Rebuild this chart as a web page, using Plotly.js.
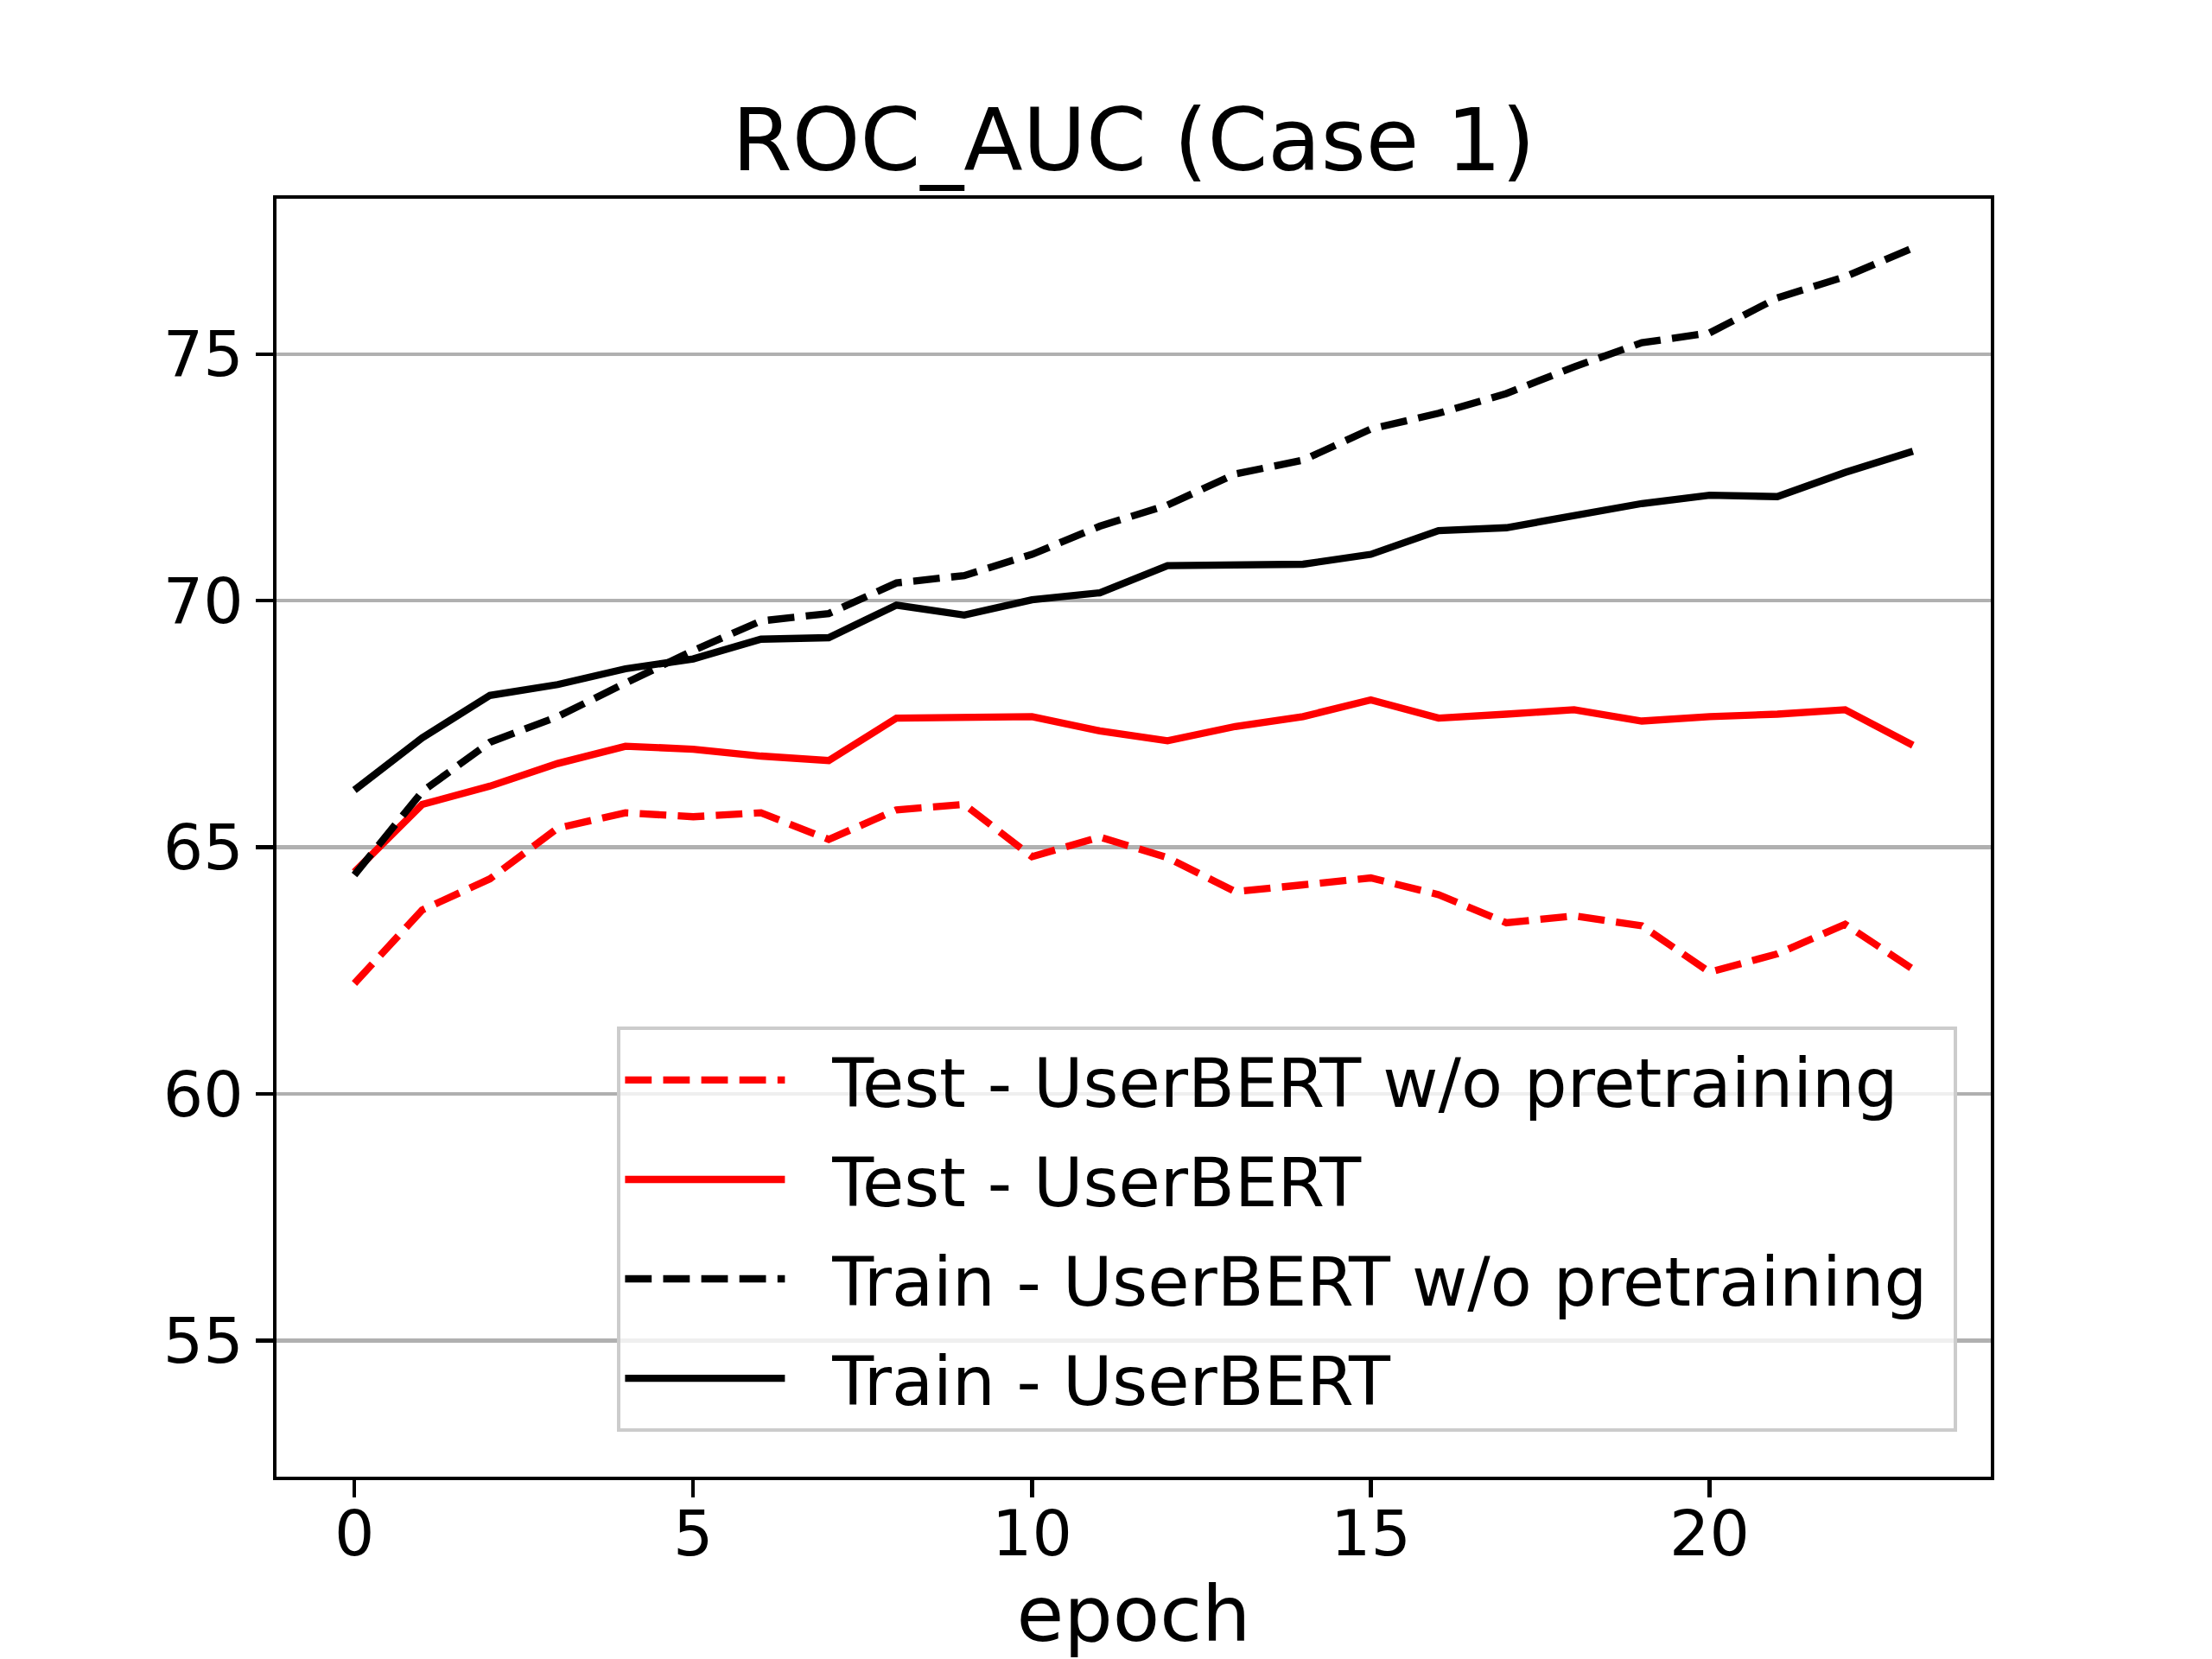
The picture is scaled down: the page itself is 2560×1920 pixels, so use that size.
<!DOCTYPE html>
<html>
<head>
<meta charset="utf-8">
<script src="https://cdn.plot.ly/plotly-3.0.1.min.js"></script>
<style>
  html, body { margin: 0; padding: 0; background: #ffffff; }
  #chart { width: 2560px; height: 1920px; }
</style>
</head>
<body>
<div id="chart"></div>
<script>
// ---- data ----
const epochs = [0,1,2,3,4,5,6,7,8,9,10,11,12,13,14,15,16,17,18,19,20,21,22,23];

const testNoPretrain = [62.24,63.73,64.36,65.39,65.70,65.62,65.70,65.16,65.76,65.87,64.81,65.21,
                        64.79,64.10,64.24,64.38,64.04,63.47,63.61,63.41,62.47,62.84,63.44,62.53];
const testUserBERT   = [64.50,65.87,66.24,66.70,67.05,66.99,66.85,66.76,67.62,67.65,67.65,67.36,
                        67.16,67.45,67.65,67.99,67.62,67.70,67.79,67.56,67.65,67.70,67.79,67.07];
const trainNoPretrain = [64.44,66.13,67.13,67.65,68.33,68.99,69.59,69.74,70.36,70.51,70.94,71.51,
                         71.94,72.57,72.85,73.48,73.80,74.20,74.74,75.23,75.43,76.14,76.57,77.15];
const trainUserBERT  = [66.16,67.22,68.08,68.30,68.62,68.82,69.22,69.25,69.91,69.71,70.02,70.16,
                        70.71,70.74,70.74,70.94,71.42,71.48,71.74,71.97,72.14,72.11,72.60,73.03];

const seriesNames = ['Test - UserBERT w/o pretraining', 'Test - UserBERT',
                     'Train - UserBERT w/o pretraining', 'Train - UserBERT'];
const xTicks = [0, 5, 10, 15, 20];
const yTicks = [55, 60, 65, 70, 75];

// ---- styling ----
const LW = 8.33;               // 1.5pt at 400 dpi
const DASH = '30.8px,13.3px';  // matplotlib dashed pattern scaled
const FONT = 'DejaVu Sans, Liberation Sans, sans-serif';
const HANDLE_PAD = '\u00A0\u00A0'; // gap between legend line sample and its text
const RIGHT_PAD = '\u00A0';        // inner right padding of the legend box

const series = [
  { y: testNoPretrain,  color: '#ff0000', dash: DASH },
  { y: testUserBERT,    color: '#ff0000', dash: 'solid' },
  { y: trainNoPretrain, color: '#000000', dash: DASH },
  { y: trainUserBERT,   color: '#000000', dash: 'solid' }
];

const traces = series.map((s, i) => ({
  type: 'scatter',
  mode: 'lines',
  x: epochs,
  y: s.y,
  name: HANDLE_PAD + seriesNames[i] + RIGHT_PAD,
  legendgroup: 'g' + i,
  line: { color: s.color, width: LW, dash: s.dash },
  hoverinfo: 'skip'
}));

const layout = {
  width: 2560,
  height: 1920,
  margin: { l: 320, r: 256, t: 230, b: 211, pad: 0 },
  paper_bgcolor: '#ffffff',
  plot_bgcolor: '#ffffff',
  font: { family: FONT, color: '#000000', size: 73 },
  title: {
    text: 'ROC_AUC (Case 1)',
    font: { family: FONT, size: 100, color: '#000000' },
    xref: 'paper', x: 0.5, xanchor: 'center',
    yref: 'container', y: 1 - 162 / 1920, yanchor: 'middle'
  },
  xaxis: {
    range: [-1.15, 24.15],
    tickmode: 'array',
    tickvals: xTicks,
    ticktext: xTicks.map(String),
    ticks: 'outside', ticklen: 19.4, tickwidth: 4.4, tickcolor: '#000000',
    ticklabelstandoff: -20,
    showline: true, mirror: true, linewidth: 4.4, linecolor: '#000000',
    showgrid: false, zeroline: false,
    tickfont: { family: FONT, size: 73, color: '#000000' },
    title: { text: 'epoch', font: { family: FONT, size: 89, color: '#000000' }, standoff: 70 }
  },
  yaxis: {
    range: [52.24, 78.15],
    tickmode: 'array',
    tickvals: yTicks,
    ticktext: yTicks.map(String),
    ticks: 'outside', ticklen: 19.4, tickwidth: 4.4, tickcolor: '#000000',
    ticklabelstandoff: 0,
    showline: true, mirror: true, linewidth: 4.4, linecolor: '#000000',
    showgrid: true, gridcolor: '#b0b0b0', gridwidth: 4.4,
    zeroline: false,
    tickfont: { family: FONT, size: 73, color: '#000000' }
  },
  showlegend: true,
  legend: {
    xref: 'paper', yref: 'paper',
    x: (2265 - 320) / 1984, xanchor: 'right',
    y: (1709 - 1669 + 12) / 1479, yanchor: 'bottom',
    bgcolor: 'rgba(255,255,255,0.8)',
    bordercolor: '#cccccc', borderwidth: 4.4,
    font: { family: FONT, size: 78.5, color: '#000000' },
    itemwidth: 185,
    traceorder: 'grouped',
    tracegroupgap: 10
  }
};

Plotly.newPlot('chart', traces, layout, { staticPlot: true, displayModeBar: false });
</script>
</body>
</html>
